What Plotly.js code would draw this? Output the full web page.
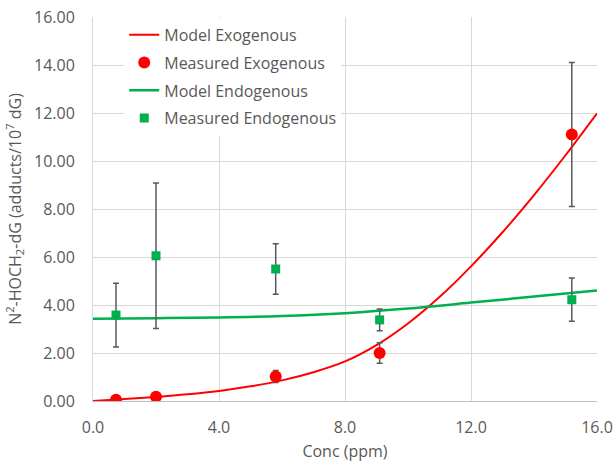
<!DOCTYPE html>
<html>
<head>
<meta charset="utf-8">
<script src="https://cdn.plot.ly/plotly-3.0.1.min.js"></script>
<style>html,body{margin:0;padding:0;background:#fff;}#chart{width:616px;height:462px;}</style>
</head>
<body>
<div id="chart"></div>
<script>
// Model curves
const modelX = [0, 1, 2, 3, 4, 5, 6, 7, 8, 9, 10, 11, 12, 13, 14, 15, 16];
const modelExo = [0.0, 0.08, 0.17, 0.28, 0.42, 0.61, 0.86, 1.20, 1.65, 2.33, 3.23, 4.33, 5.61, 7.03, 8.58, 10.24, 11.99];
const modelEndoX = [0, 2, 4, 6, 8, 10, 12, 14, 16];
const modelEndo = [3.43, 3.45, 3.48, 3.54, 3.66, 3.85, 4.1, 4.35, 4.6];
// Measured points
const concX = [0.73, 2.0, 5.8, 9.1, 15.2];
const measExo = [0.05, 0.18, 1.02, 2.0, 11.1];
const measExoErr = [0.0, 0.0, 0.25, 0.43, 3.0];
const measEndo = [3.58, 6.05, 5.5, 3.38, 4.22];
const measEndoErr = [1.33, 3.03, 1.05, 0.45, 0.9];
const names = ["Model Exogenous", "Measured Exogenous", "Model Endogenous", "Measured Endogenous"];

const red = "#FF0000", green = "#00B050", errc = "#595959";
const font = "Open Sans, Liberation Sans, sans-serif";

const traces = [
  {x: modelX, y: modelExo, name: names[0], type: "scatter", mode: "lines",
   line: {color: red, width: 2, shape: "spline", smoothing: 1}, legendgroup: "a"},
  {x: concX, y: measExo, name: names[1], type: "scatter", mode: "markers",
   marker: {color: red, size: 12, symbol: "circle"},
   error_y: {type: "data", array: measExoErr, visible: true, color: errc, thickness: 1.5, width: 3},
   legendgroup: "b"},
  {x: modelEndoX, y: modelEndo, name: names[2], type: "scatter", mode: "lines",
   line: {color: green, width: 2.5, shape: "spline", smoothing: 1}, legendgroup: "c"},
  {x: concX, y: measEndo, name: names[3], type: "scatter", mode: "markers",
   marker: {color: green, size: 9, symbol: "square"},
   error_y: {type: "data", array: measEndoErr, visible: true, color: errc, thickness: 1.5, width: 3},
   legendgroup: "d"}
];

const layout = {
  width: 616, height: 462,
  margin: {l: 93, r: 19, t: 17, b: 61},
  paper_bgcolor: "#fff", plot_bgcolor: "#fff",
  font: {family: font, size: 16, color: "#595959"},
  showlegend: true,
  legend: {x: 0.062, y: 0.998, xanchor: "left", yanchor: "top", bgcolor: "#fff",
           font: {family: font, size: 16, color: "#595959"}, tracegroupgap: 4, itemwidth: 30},
  xaxis: {range: [0, 16], dtick: 4, tick0: 0, tickformat: ".1f", showgrid: true,
          gridcolor: "#D9D9D9", gridwidth: 1, zeroline: false, showline: true, linecolor: "#BFBFBF",
          ticks: "", ticklabelstandoff: 12, tickfont: {size: 16, color: "#595959"},
          title: {text: "Conc (ppm)", font: {size: 16, color: "#595959"}, standoff: 10}},
  yaxis: {range: [0, 16], dtick: 2, tick0: 0, tickformat: ".2f", showgrid: true,
          gridcolor: "#D9D9D9", gridwidth: 1, zeroline: false, showline: true, linecolor: "#D9D9D9",
          ticks: "", ticklabelstandoff: 14, tickfont: {size: 16, color: "#595959"},
          title: {text: "N<sup>2</sup>-HOCH<sub>2</sub>-dG (adducts/10<sup>7</sup> dG)",
                  font: {size: 16, color: "#595959"}, standoff: 8}}
};

Plotly.newPlot("chart", traces, layout, {staticPlot: true, displayModeBar: false});
</script>
</body>
</html>
